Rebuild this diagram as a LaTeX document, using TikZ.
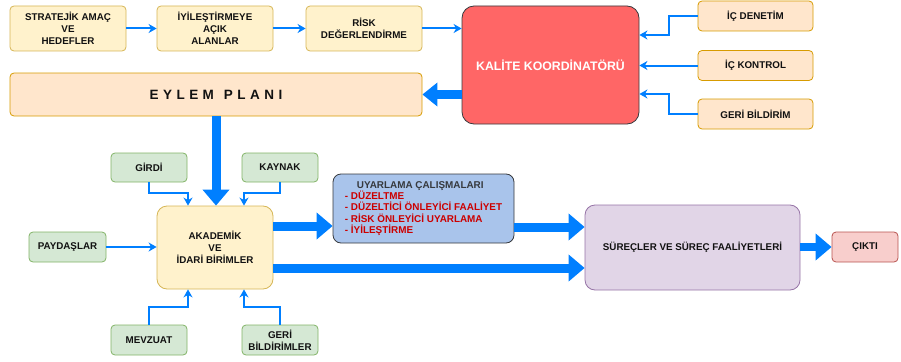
\documentclass[tikz,border=0pt]{standalone}
\usepackage{fontspec}
\setmainfont{Liberation Sans}
\usetikzlibrary{arrows.meta,calc}
\definecolor{yelF}{HTML}{FFF2CC}\definecolor{yelD}{HTML}{D6B656}
\definecolor{pchF}{HTML}{FFE6CC}\definecolor{pchD}{HTML}{D79B00}
\definecolor{grnF}{HTML}{D5E8D4}\definecolor{grnD}{HTML}{82B366}
\definecolor{redF}{HTML}{FF6666}\definecolor{darkD}{HTML}{36393D}
\definecolor{bluF}{HTML}{A9C4EB}
\definecolor{purF}{HTML}{E1D5E7}\definecolor{purD}{HTML}{9673A6}
\definecolor{pnkF}{HTML}{F8CECC}\definecolor{pnkD}{HTML}{B85450}
\definecolor{arrB}{HTML}{007FFF}
\definecolor{txt}{HTML}{111111}
\definecolor{redT}{HTML}{CC0000}
\begin{document}
\begin{tikzpicture}[x=1pt,y=-1pt,
  box/.style={draw, rounded corners=4pt, line width=0.8pt, font=\fontsize{9.8}{11.7}\selectfont\bfseries, align=center, text=txt, inner sep=0pt},
  yel/.style={box, fill=yelF, draw=yelD},
  pch/.style={box, fill=pchF, draw=pchD},
  grn/.style={box, fill=grnF, draw=grnD},
  tarr/.style={draw=arrB, line width=2pt, -{Stealth[length=8pt,width=9pt,inset=2.5pt]}},
  barr/.style={draw=arrB, line width=9pt, -{Triangle[length=16pt,width=26pt]}}
]
\useasboundingbox (0,0) rectangle (901,361);
% top row
\node[yel, minimum width=116pt, minimum height=45pt] (s1) at (68,28.5) {STRATEJİK AMAÇ\\VE\\HEDEFLER};
\node[yel, minimum width=116pt, minimum height=45pt] (s2) at (215,28.5) {İYİLEŞTİRMEYE\\AÇIK\\ALANLAR};
\node[yel, minimum width=116pt, minimum height=45pt] (s3) at (364,28.5) {RİSK\\DEĞERLENDİRME};
\node[box, fill=redF, draw=darkD, rounded corners=12pt, text=white, minimum width=177pt, minimum height=118pt, font=\fontsize{12.3}{14}\selectfont\bfseries] (kal) at (550.5,65) {KALİTE KOORDİNATÖRÜ};
\node[pch, minimum width=412pt, minimum height=43pt] (eyl) at (216,94.5) {\fontsize{13.5}{15}\selectfont\addfontfeatures{LetterSpace=33}\mbox{EYLEM}\hspace{10pt}\mbox{PLANI}};
\node[pch, minimum width=115pt, minimum height=30pt] (ic1) at (755.5,16) {İÇ DENETİM};
\node[pch, minimum width=115pt, minimum height=30pt] (ic2) at (755.5,65.5) {İÇ KONTROL};
\node[pch, minimum width=115pt, minimum height=30pt] (ic3) at (755.5,114) {GERİ BİLDİRİM};
% lower part
\node[grn, minimum width=76pt, minimum height=29pt] (gir) at (149,167.5) {GİRDİ};
\node[grn, minimum width=76pt, minimum height=29pt] (kay) at (280,167.5) {KAYNAK};
\node[yel, rounded corners=10pt, minimum width=116pt, minimum height=83pt] (aka) at (215,247.5) {AKADEMİK\\VE\\İDARİ BİRİMLER};
\node[grn, minimum width=77pt, minimum height=30pt] (pay) at (67.5,247) {PAYDAŞLAR};
\node[grn, minimum width=76pt, minimum height=30pt] (mev) at (149,340) {MEVZUAT};
\node[grn, minimum width=76pt, minimum height=30pt] (ger) at (280,340) {GERİ\\BİLDİRİMLER};
\node[box, fill=bluF, draw=darkD, rounded corners=8pt, minimum width=181pt, minimum height=69pt, align=left, font=\fontsize{9.9}{11.3}\selectfont\bfseries] (uya) at (423.5,208.5)
  {\hspace*{12pt}\textcolor{darkD}{UYARLAMA ÇALIŞMALARI}\\
   \textcolor{redT}{- DÜZELTME}\\
   \textcolor{redT}{- DÜZELTİCİ ÖNLEYİCİ FAALİYET}\\
   \textcolor{redT}{- RİSK ÖNLEYİCİ UYARLAMA}\\
   \textcolor{redT}{- İYİLEŞTİRME}};
\node[box, fill=purF, draw=purD, rounded corners=10pt, minimum width=215pt, minimum height=85pt] (sur) at (692.5,247.5) {SÜREÇLER VE SÜREÇ FAALİYETLERİ};
\node[box, fill=pnkF, draw=pnkD, minimum width=66pt, minimum height=30pt] (cik) at (865,247) {ÇIKTI};
% thin connectors
\draw[tarr] (s1.east) -- (s2.west);
\draw[tarr] (s2.east) -- (s3.west);
\draw[tarr] (s3.east) -- (s3.east -| kal.west);
\draw[tarr] (ic1.west) -- ++(-29,0) |- ([yshift=30pt]kal.east);
\draw[tarr] (ic2.west) -- (ic2.west -| kal.east);
\draw[tarr] (ic3.west) -- ++(-29,0) |- ([yshift=-29pt]kal.east);
\draw[tarr] (gir.south) -- ++(0,11) -| ([xshift=-27pt]aka.north);
\draw[tarr] (kay.south) -- ++(0,11) -| ([xshift=29pt]aka.north);
\draw[tarr] (mev.north) -- ++(0,-18) -| ([xshift=-27pt]aka.south);
\draw[tarr] (ger.north) -- ++(0,-18) -| ([xshift=29pt]aka.south);
\draw[tarr] (pay.east) -- (pay.east -| aka.west);
% thick connectors
\draw[barr, line width=9.5pt, -{Triangle[length=15pt,width=23pt]}] (eyl.east -| kal.west) -- (eyl.east);
\draw[barr] (eyl.south) -- (eyl.south |- aka.north);
\draw[barr] ([yshift=21.5pt]aka.east) -- ([yshift=21.5pt]aka.east -| uya.west);
\draw[barr] ([yshift=-20.5pt]aka.east) -- ([yshift=-20.5pt]aka.east -| sur.west);
\draw[barr] ([yshift=-18.5pt]uya.east) -- ([yshift=-18.5pt]uya.east -| sur.west);
\draw[barr, line width=8.5pt] (sur.east |- cik.west) -- (cik.west);
\end{tikzpicture}
\end{document}
